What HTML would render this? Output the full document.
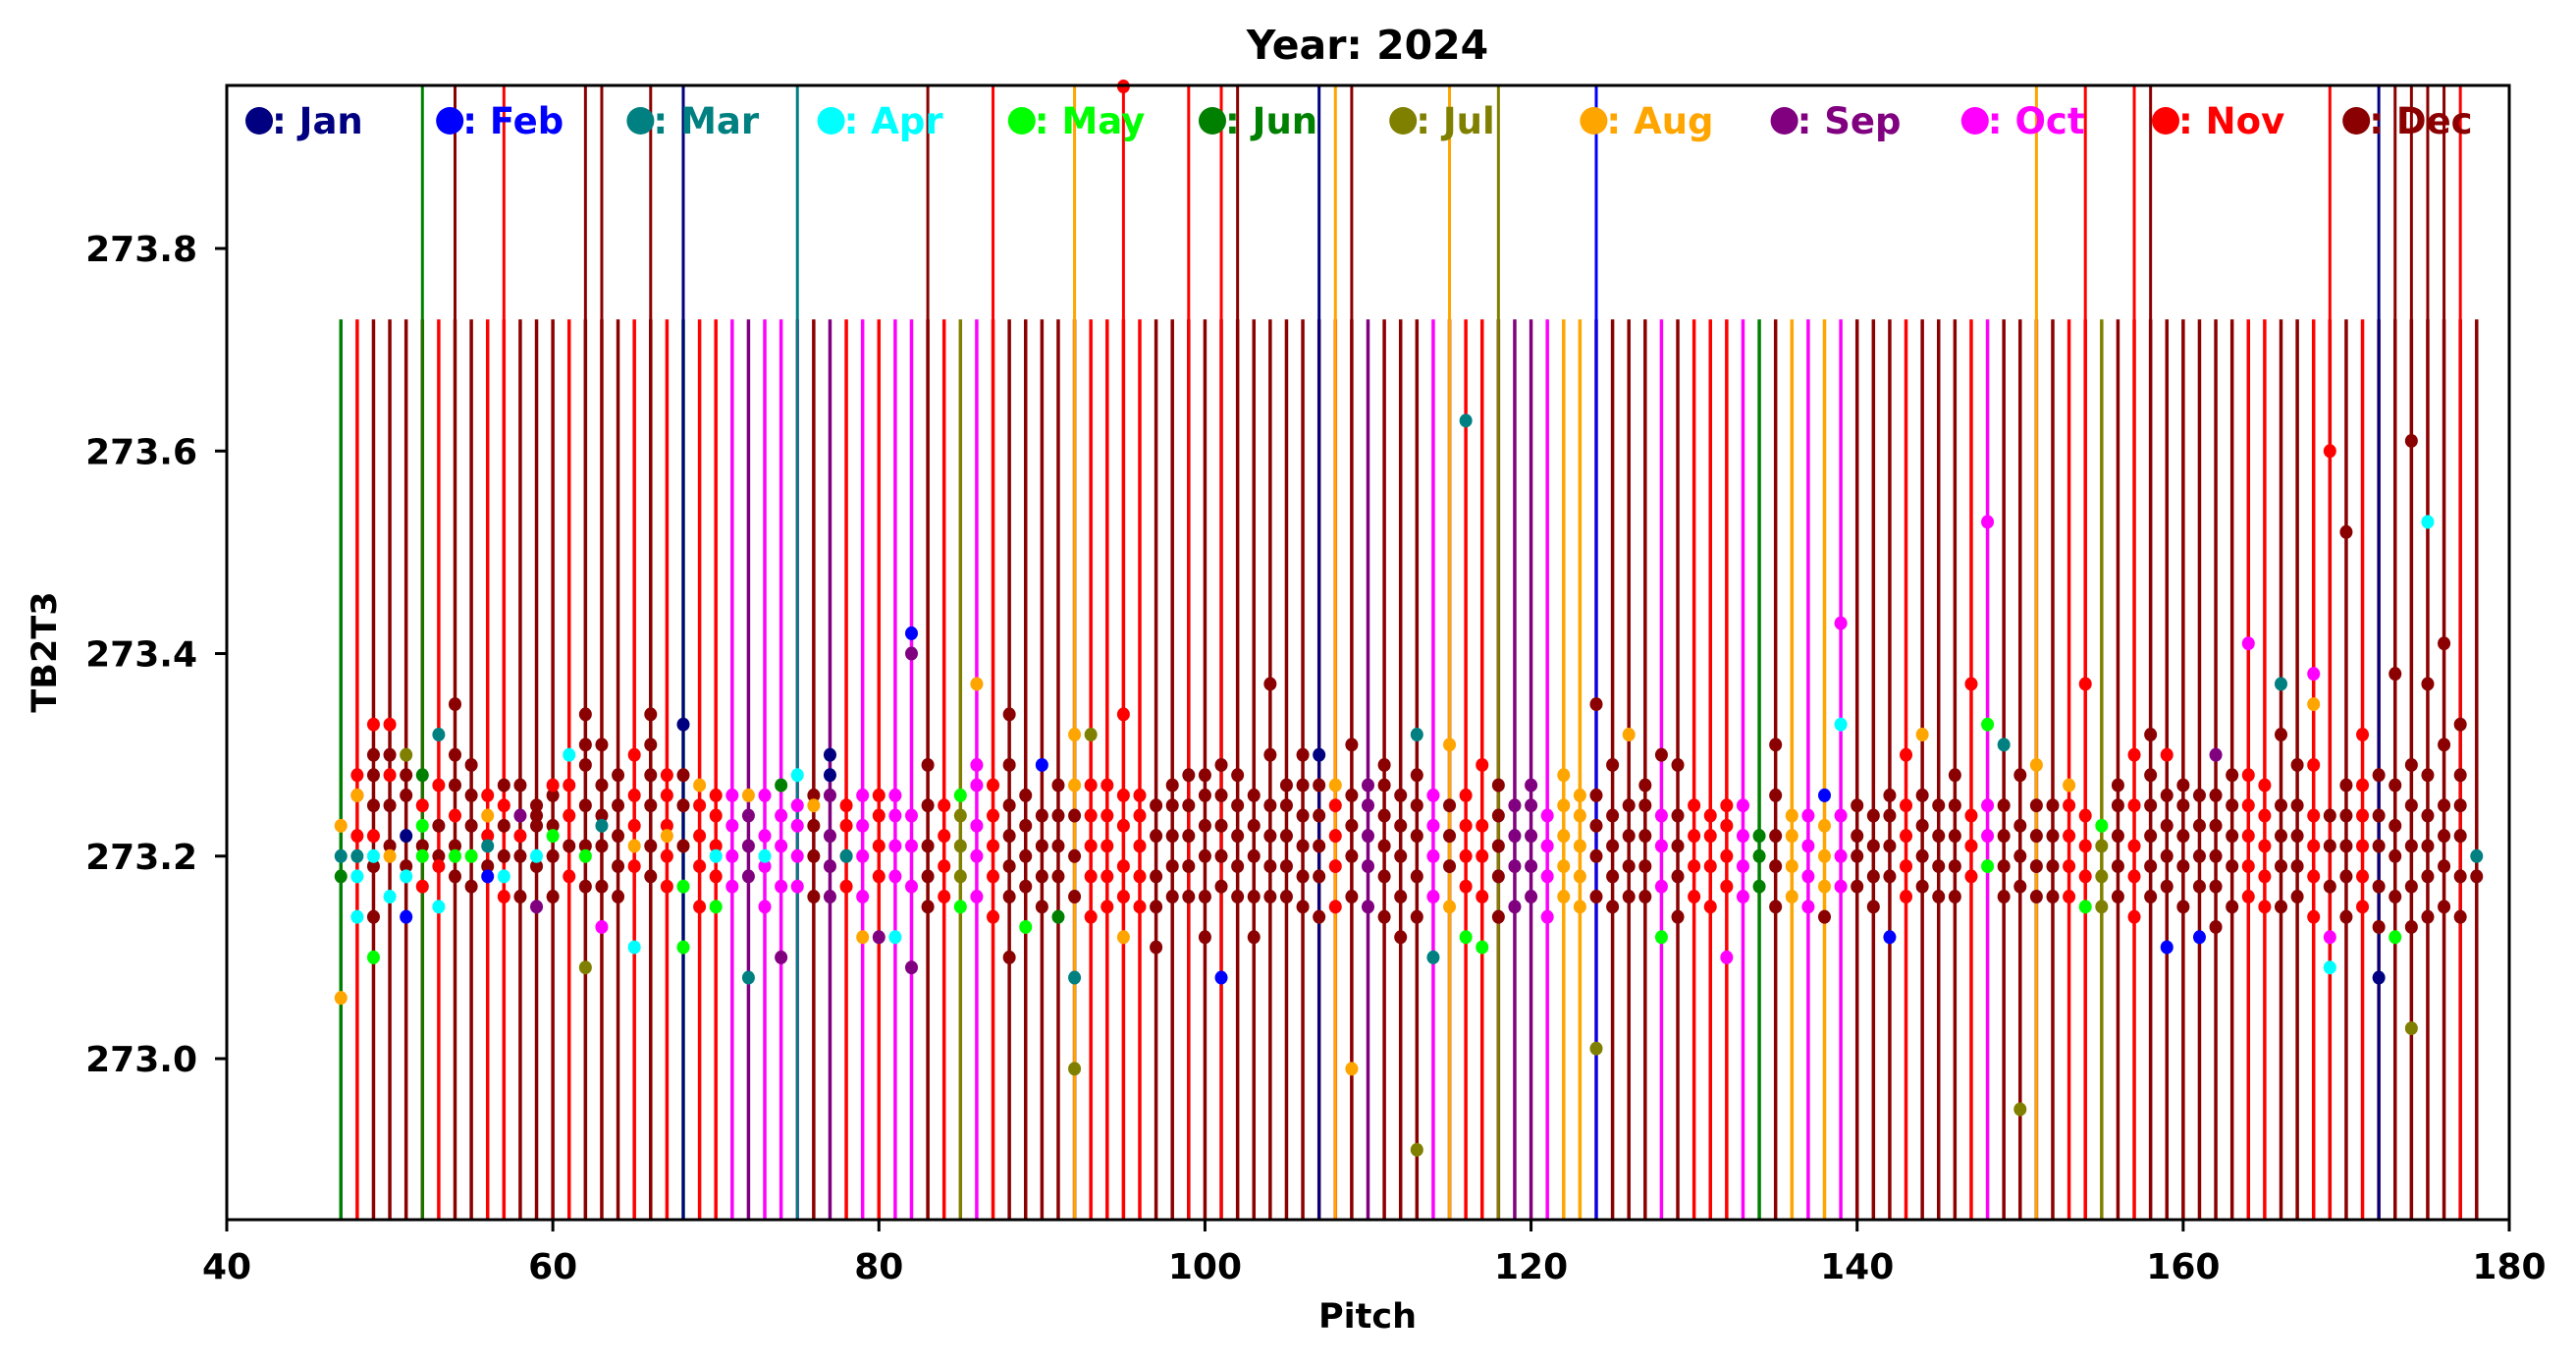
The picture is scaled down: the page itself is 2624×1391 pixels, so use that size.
<!DOCTYPE html>
<html><head><meta charset="utf-8"><style>
html,body{margin:0;padding:0;background:#fff;}
svg{display:block;font-family:"DejaVu Sans","Liberation Sans",sans-serif;font-weight:bold;}
</style></head><body>
<svg id="chart" width="2624" height="1391" viewBox="0 0 2624 1391" xmlns="http://www.w3.org/2000/svg">
<rect width="2624" height="1391" fill="#fff"/>
<text x="1393" y="60" font-size="41" text-anchor="middle">Year: 2024</text>
<g id="lines"></g>
<g id="pts"></g>
<rect x="231" y="87" width="2325" height="1155" fill="none" stroke="#000" stroke-width="3"/>
<g id="xt"></g>
<g id="yt"></g>
<g id="legend"></g>
<text x="1393" y="1352" font-size="35" text-anchor="middle">Pitch</text>
<text transform="translate(57,664) rotate(-90)" font-size="35" text-anchor="middle">TB2T3</text>
</svg>
<script>
const monthNames=["Jan","Feb","Mar","Apr","May","Jun","Jul","Aug","Sep","Oct","Nov","Dec"];
const monthColors=["#000080","#0000ff","#008080","#00ffff","#00ff00","#008000","#808000","#ffa500","#800080","#ff00ff","#ff0000","#8b0000"];
const pitches=[47,48,49,50,51,52,53,54,55,56,57,58,59,60,61,62,63,64,65,66,67,68,69,70,71,72,73,74,75,76,77,78,79,80,81,82,83,84,85,86,87,88,89,90,91,92,93,94,95,96,97,98,99,100,101,102,103,104,105,106,107,108,109,110,111,112,113,114,115,116,117,118,119,120,121,122,123,124,125,126,127,128,129,130,131,132,133,134,135,136,137,138,139,140,141,142,143,144,145,146,147,148,149,150,151,152,153,154,155,156,157,158,159,160,161,162,163,164,165,166,167,168,169,170,171,172,173,174,175,176,177,178];
const lineMonths="fklllkkllk"+"klllklllkl"+"kfkkjijjjl"+"ikjkjjlkgj"+"klllllkkkk"+"llllllllll"+"lklillljlk"+"kliijhhlll"+"ljlkkkjflh"+"jhjlllklll"+"kjllllkkgl"+"kllllllkkl"+"lkllklllll"+"ll";
const lineTop=273.73;
const tallPitches=[52,54,57,62,63,66,68,75,83,87,92,95,99,101,102,107,108,109,115,118,124,151,154,157,158,169,172,173,174,175,176,177];
const tallCols=["f","l","k","l","l","l","a","c","l","k","h","k","k","k","l","a","h","l","h","g","b","h","k","k","l","k","a","l","l","l","l","k"];
const pointVals=["06h 18f 20c 23h","14d 18d 22k 26k 28k 26h 20c","10e 14l 19l 22k 25l 28l 33k 30l 20d","16d 21l 25l 28k 30l 33k 20h","14b 19l 22a 26l 28l 30g 18d","17k 21l 25k 28f 23e 20e","15d 20l 23l 27k 32c 19k","18l 21l 24k 27l 30l 35l 20e","17l 20e 23l 26l 29l","19l 22k 24h 26k 21c 18b","16k 20l 23l 25k 27l 18d","16l 20l 24i 27l 22k","15i 19l 23l 25l 24l 20d","16l 20l 23l 26l 27k 22e","18k 21l 24k 27k 30d","09g 17l 21l 25l 29l 31l 34l 20e","17l 21l 24l 27l 31l 13j 23c","16l 19l 22l 25l 28l","11d 19k 23k 26k 30k 21h","18l 21l 25l 28l 31l 34l","17k 20k 23k 26k 28k 22h","11e 17e 21l 25l 28l 33a","15k 19k 22k 25k 27h","15e 18k 21k 24k 26k 20d","17j 20j 23j 26j","08c 18i 21i 24i 26h","15j 19j 22j 26j 20d","10i 17j 21j 24j 27f","17j 20j 23j 25j 28d","16l 20l 23l 26l 25h","16i 19i 22i 26i 30a 28a","17k 20k 23k 25k 20c","12h 16j 20j 23j 26j","12i 18k 21k 24k 26k","12d 18j 21j 24j 26j","09i 17j 21j 24j 40i 42b","15l 18l 21l 25l 29l","16k 19k 22k 25k","15e 18g 21g 24g 26e","16j 20j 23j 27j 29j 37h","14k 18k 21k 24k 27k","10l 16l 19l 22l 25l 29l 34l","13e 17l 20l 23l 26l","15l 18l 21l 24l 29b","14f 18l 21l 24l 27l","-01g 08c 16l 20l 24l 27h 32h","14k 18k 21k 24k 27k 32g","15k 18k 21k 24k 27k","12h 16k 19k 23k 26k 34k 96k","15k 18k 21k 24k 26k","11l 15l 18l 22l 25l","16l 19l 22l 25l 27l","16l 19l 22l 25l 28l","12l 16l 20l 23l 26l 28l","08b 17l 20l 23l 26l 29l","16l 19l 22l 25l 28l","12l 16l 20l 23l 26l","16l 19l 22l 25l 30l 37l","16l 19l 22l 25l 27l","15l 18l 21l 24l 27l 30l","14l 18l 21l 24l 27l 30a","15k 19k 22k 25k 27h","-01h 16l 20l 23l 26l 31l","15i 19i 22i 25i 27i","14l 18l 21l 24l 27l 29l","12l 16l 20l 23l 26l","-09g 14l 18l 22l 25l 28l 32c","10c 16j 20j 23j 26j","15h 19l 22l 25l 31h","12e 17k 20k 23k 26k 63c","11e 16k 20k 23k 29k","14l 18l 21l 24l 27l","15i 19i 22i 25i","16i 19i 22i 25i 27i","14j 18j 21j 24j","16h 19h 22h 25h 28h","15h 18h 21h 24h 26h","01g 16l 20l 23l 26l 35l","15l 18l 21l 24l 29l","16l 19l 22l 25l 32h","16l 19l 22l 25l 27l","12e 17j 21j 24j 30l","14l 18l 21l 24l 29l","16k 19k 22k 25k","15k 19k 22k 24k","10j 17k 20k 23k 25k","16j 19j 22j 25j","17f 20f 22f","15l 19l 22l 26l 31l","16h 19h 22h 24h","15j 18j 21j 24j","14l 17h 20h 23h 26b","17j 20j 24j 33d 43j","17l 20l 22l 25l","15l 18l 21l 24l","12b 18l 21l 24l 26l","16k 19k 22k 25k 30k","17l 20l 23l 26l 32h","16l 19l 22l 25l","16l 19l 22l 25l 28l","18k 21k 24k 37k","19e 22j 25j 33e 53j","16l 19l 22l 25l 31c","-05g 17l 20l 23l 28l","16l 19l 22l 25l 29h","16l 19l 22l 25l","16k 19k 22k 25k 27h","15e 18k 21k 24k 37k","15g 18g 21g 23e","16l 19l 22l 25l 27l","14k 18k 21k 25k 30k","16l 19l 22l 25l 28l 32l","11b 17l 20l 23l 26l 30k","15l 19l 22l 25l 27l","12b 17l 20l 23l 26l","13l 17l 20l 23l 26l 30i","15l 19l 22l 25l 28l","16k 19k 22k 25k 28k 41j","15k 18k 21k 24k 27k","15l 19l 22l 25l 32l 37c","16l 19l 22l 25l 29l","14k 18k 21k 24k 29k 35h 38j","09d 12j 17l 21l 24l 60k","14l 18l 21l 24l 27l 52l","15k 18k 21k 24k 27k 32k","08a 13l 17l 21l 24l 28l","12e 16l 20l 23l 27l 38l","03g 13l 17l 21l 25l 29l 61l","14l 18l 21l 24l 28l 37l 53d","15l 19l 22l 25l 31l 41l","14l 18l 22l 25l 28l 33l","18l 20c"];
const xTicks=[40,60,80,100,120,140,160,180];
const yTicks=[273.0,273.2,273.4,273.6,273.8];
const xMin=40,xMax=180,yMin=272.841,yMax=273.961;
const L=231,R=2556,T=87,B=1242;
const NS="http://www.w3.org/2000/svg";
function sx(v){return L+(v-xMin)/(xMax-xMin)*(R-L);}
function sy(v){return B-(v-yMin)/(yMax-yMin)*(B-T);}
function mc(ch){return monthColors[ch.charCodeAt(0)-97];}
function mk(tag,attrs,parent){const e=document.createElementNS(NS,tag);for(const k in attrs)e.setAttribute(k,attrs[k]);parent.appendChild(e);return e;}
const gl=document.getElementById('lines'),gp=document.getElementById('pts');
pitches.forEach((p,i)=>{
  const ln=mk('line',{x1:sx(p),x2:sx(p),y1:B,y2:sy(lineTop),stroke:mc(lineMonths[i]),'stroke-width':3.5},gl);
  
  
});
tallPitches.forEach((p,i)=>{
  const ln=mk('line',{x1:sx(p),x2:sx(p),y1:B,y2:T,stroke:mc(tallCols[i]),'stroke-width':3},gl);
  
  
});
pitches.forEach((p,i)=>{
  pointVals[i].split(' ').forEach(tok=>{
    const m=tok.slice(-1),v=273+parseFloat(tok.slice(0,-1))/100;
    const c=mk('ellipse',{cx:sx(p),cy:sy(v),rx:6.5,ry:7,fill:mc(m)},gp);
    
    
  });
});
const gx=document.getElementById('xt');
xTicks.forEach(t=>{
  mk('line',{x1:sx(t),x2:sx(t),y1:B,y2:B+12,stroke:'#000','stroke-width':3},gx);
  const tx=mk('text',{x:sx(t),y:1302,'font-size':36,'text-anchor':'middle'},gx);
  tx.textContent=t;
  
  
});
const gy=document.getElementById('yt');
yTicks.forEach(t=>{
  mk('line',{x1:L-12,x2:L,y1:sy(t),y2:sy(t),stroke:'#000','stroke-width':3},gy);
  const tx=mk('text',{x:201,y:sy(t)+13,'font-size':36,'text-anchor':'end'},gy);
  tx.textContent=t.toFixed(1);
  
  
});
const gLeg=document.getElementById('legend');
monthNames.forEach((n,i)=>{
  const x=264+i*194.2;
  const g=mk('g',{},gLeg);
  
  
  mk('ellipse',{cx:x,cy:123,rx:14,ry:14,fill:monthColors[i]},g);
  const tx=mk('text',{x:x+13,y:136,'font-size':37,fill:monthColors[i]},g);
  tx.textContent=': '+n;
});
</script>
</body></html>
